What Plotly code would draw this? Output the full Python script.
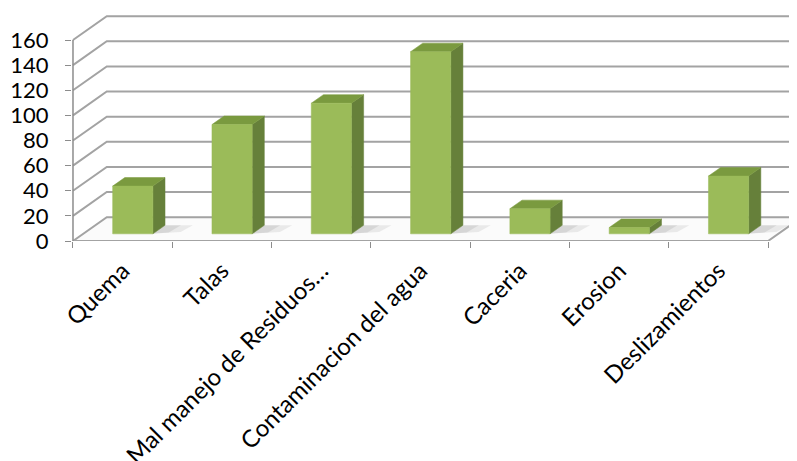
import plotly.graph_objects as go

categories = ["Quema", "Talas", "Mal manejo de Residuos…", "Contaminacion del agua",
              "Caceria", "Erosion", "Deslizamientos"]
values = [38, 87, 104, 145, 20, 5, 46]
y_ticks = [0, 20, 40, 60, 80, 100, 120, 140, 160]

# 3D-look geometry (in data units)
DXB, DYB = 0.34, 19.0          # back-wall offset
F0, F1 = 0.30, 0.66            # bar front / back depth fraction
BW = 0.405                     # bar width
n = len(categories)
xl, xr = -0.5, n - 0.5

FRONT = "#9BBB59"
SIDE = "#66803A"
TOP = "#7A9A3F"
GRID = "#A3A3A3"

fig = go.Figure()


def poly(xs, ys, fill, line=None, lw=0.5):
    fig.add_trace(go.Scatter(
        x=xs + [xs[0]], y=ys + [ys[0]], mode="lines", fill="toself",
        fillcolor=fill, line=dict(color=line or fill, width=lw),
        hoverinfo="skip", showlegend=False))


# floor
poly([xl, xr, xr + DXB, xl + DXB], [0, 0, DYB, DYB], "#FBFBFB", GRID, 2)

# back wall + left wall gridlines
for v in y_ticks[1:]:
    fig.add_trace(go.Scatter(
        x=[xl, xl + DXB, xr + DXB + 1], y=[v, v + DYB, v + DYB],
        mode="lines", line=dict(color=GRID, width=2),
        hoverinfo="skip", showlegend=False))

# y axis line
fig.add_trace(go.Scatter(x=[xl, xl], y=[0, y_ticks[-1]], mode="lines",
                         line=dict(color="#8C8C8C", width=1.5),
                         hoverinfo="skip", showlegend=False))

ox0, oy0 = F0 * DXB, F0 * DYB
ox1, oy1 = F1 * DXB, F1 * DYB
ddx, ddy = ox1 - ox0, oy1 - oy0
for i, v in enumerate(values):
    x0 = i - BW / 2 + ox0
    x1 = i + BW / 2 + ox0
    # soft shadow on the floor
    poly([x1 - 0.02, x1 + 0.28, x1 + 0.28 + ddx, x1 + ddx],
         [oy0, oy0 + 1.5, oy1, oy1], "rgba(140,140,140,0.16)", lw=0)
    poly([x1 - 0.02, x1 + 0.16, x1 + 0.16 + ddx, x1 + ddx],
         [oy0, oy0 + 1.0, oy1, oy1], "rgba(120,120,120,0.16)", lw=0)
    # side face
    poly([x1, x1 + ddx, x1 + ddx, x1], [oy0, oy1, oy1 + v, oy0 + v], SIDE)
    # top face
    poly([x0, x1, x1 + ddx, x0 + ddx], [oy0 + v, oy0 + v, oy1 + v, oy1 + v], TOP)
    # front face
    poly([x0, x1, x1, x0], [oy0, oy0, oy0 + v, oy0 + v], FRONT)

# page has an 8px body margin: figure occupies page px 8..797 / 8..461
fig.update_layout(
    width=789, height=453,
    margin=dict(l=64, r=0, t=0, b=220),
    paper_bgcolor="white", plot_bgcolor="white",
    font=dict(family="Lato, Calibri, sans-serif", color="black"),
    xaxis=dict(
        range=[xl - 0.01, xl - 0.01 + 725 / 99.3], automargin=False,
        tickmode="array", tickvals=list(range(n)), ticktext=categories,
        tickangle=-45, ticks="", showgrid=False, zeroline=False,
        tickfont=dict(size=24), ticklabelstandoff=10,
        minor=dict(tickmode="array", tickvals=[k - 0.5 for k in range(n + 1)],
                   ticks="outside", ticklen=6, tickcolor="#8C8C8C",
                   showgrid=False),
    ),
    yaxis=dict(
        range=[0, 233 / 1.256], automargin=False,
        tickmode="array", tickvals=y_ticks,
        ticks="outside", ticklen=6, tickcolor="#8C8C8C",
        showgrid=False, zeroline=False, showline=False,
        tickfont=dict(size=22), ticklabelstandoff=12,
    ),
)

fig.write_html("out.html")
